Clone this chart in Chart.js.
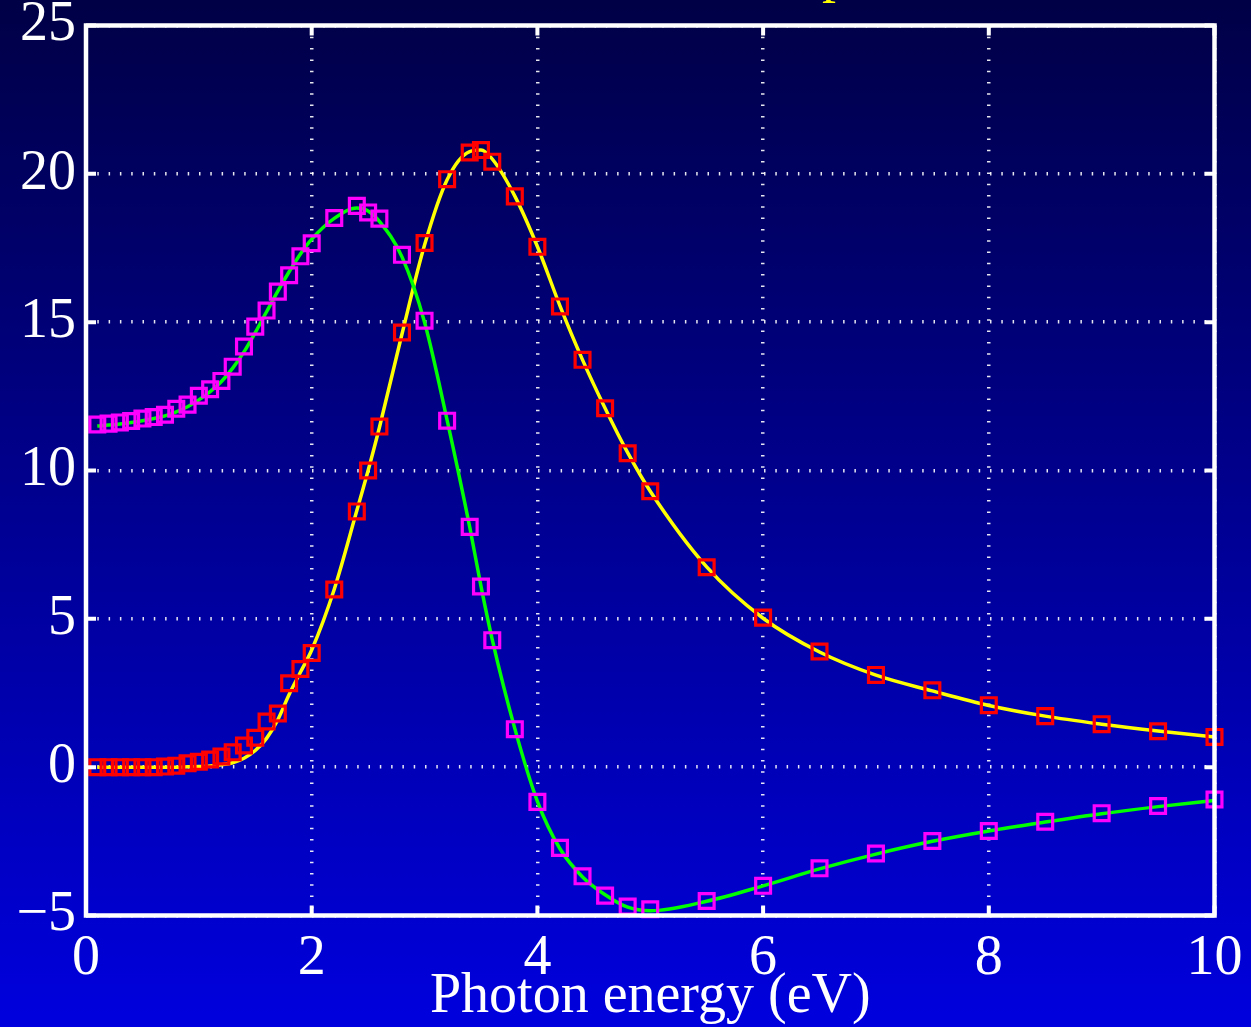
<!DOCTYPE html>
<html>
<head>
<meta charset="utf-8">
<script src="https://cdn.jsdelivr.net/npm/chart.js@4.4.1/dist/chart.umd.min.js"></script>
<style>
  html, body { margin: 0; padding: 0; background: #000046; }
  canvas { display: block; }
</style>
</head>
<body>
<canvas id="eps" width="1251" height="1027"></canvas>
<script>
// photon energy of every sample (eV)
const energy = [0.1,0.2,0.3,0.4,0.5,0.6,0.7,0.8,0.9,1.0,1.1,1.2,1.3,1.4,1.5,1.6,1.7,1.8,1.9,2.0,
  2.2,2.4,2.5,2.6,2.8,3.0,3.2,3.4,3.5,3.6,3.8,4.0,4.2,4.4,4.6,4.8,5.0,5.5,6.0,6.5,7.0,7.5,8.0,8.5,9.0,9.5,10];

// squares (real part, magenta / imaginary part, red)
const eps1Pts = [11.55,11.58,11.62,11.67,11.75,11.8,11.88,12.08,12.22,12.52,12.74,13.02,13.5,14.18,14.85,15.39,16.03,16.58,17.22,17.66,
  18.51,18.92,18.7,18.49,17.27,15.05,11.68,8.1,6.09,4.28,1.28,-1.17,-2.72,-3.68,-4.33,-4.7,-4.79,-4.51,-4.0,-3.41,-2.91,-2.49,-2.15,-1.84,-1.55,-1.31,-1.09];
const eps2Pts = [0,0,0,0,0,0,0.02,0.05,0.13,0.18,0.26,0.36,0.5,0.73,0.99,1.54,1.81,2.83,3.31,3.85,
  5.99,8.62,10.0,11.48,14.65,17.67,19.82,20.72,20.8,20.41,19.24,17.54,15.53,13.73,12.1,10.58,9.3,6.74,5.04,3.9,3.11,2.59,2.09,1.72,1.45,1.21,1.02];

// solid curves (green / yellow)
const eps1Line = [11.5,11.53,11.57,11.62,11.68,11.75,11.84,11.98,12.15,12.38,12.66,13.0,13.45,14.0,14.65,15.35,16.05,16.7,17.3,17.8,
  18.5,18.85,18.75,18.4,17.2,15.0,11.7,8.1,6.1,4.3,1.3,-1.15,-2.75,-3.7,-4.3,-4.72,-4.84,-4.52,-4.0,-3.43,-2.93,-2.5,-2.15,-1.85,-1.57,-1.33,-1.12];
const eps2Line = [0,0,0,0,0,0,0,0,0.01,0.02,0.04,0.08,0.15,0.3,0.56,0.97,1.6,2.45,3.2,3.95,
  6.0,8.65,10.0,11.45,14.6,17.6,19.8,20.75,20.8,20.5,19.25,17.55,15.55,13.73,12.1,10.6,9.3,6.75,5.02,3.88,3.1,2.57,2.08,1.72,1.45,1.22,1.02];

const xTicks = [0,2,4,6,8,10];
const yTicks = [-5,0,5,10,15,20,25];
const xTitle = 'Photon energy (eV)';
const topTitle = 'Lorentz oscillator dielectric response';

const serif = "'Liberation Serif', 'Times New Roman', serif";
const pts = (ys) => energy.map((e, i) => ({x: e, y: ys[i]}));
const fmt = (v) => v < 0 ? '\u2212' + Math.abs(v) : String(v);

const bgPlugin = {
  id: 'bg',
  beforeDraw(chart) {
    const ctx = chart.ctx;
    const g = ctx.createLinearGradient(0, 0, 0, chart.height);
    g.addColorStop(0, '#000046');
    g.addColorStop(1, '#0000de');
    ctx.save();
    ctx.fillStyle = g;
    ctx.fillRect(0, 0, chart.width, chart.height);
    // title sits above the canvas, only the p descender shows
    ctx.font = '56px ' + serif;
    ctx.fillStyle = '#ffff00';
    ctx.textBaseline = 'alphabetic';
    const pre = topTitle.slice(0, topTitle.indexOf('ponse'));
    ctx.fillText(topTitle, 822 - ctx.measureText(pre).width, -9.5);
    ctx.restore();
  }
};

const framePlugin = {
  id: 'frame',
  afterDatasetsDraw(chart) {
    const {ctx, chartArea: a, scales: {x, y}} = chart;
    ctx.save();
    ctx.strokeStyle = '#ffffff';
    ctx.lineWidth = 4;
    ctx.beginPath();
    x.ticks.forEach(t => {
      const px = x.getPixelForValue(t.value);
      ctx.moveTo(px, a.bottom); ctx.lineTo(px, a.bottom - 10);
      ctx.moveTo(px, a.top); ctx.lineTo(px, a.top + 10);
    });
    y.ticks.forEach(t => {
      const py = y.getPixelForValue(t.value);
      ctx.moveTo(a.left, py); ctx.lineTo(a.left + 10, py);
      ctx.moveTo(a.right, py); ctx.lineTo(a.right - 10, py);
    });
    ctx.stroke();
    ctx.lineWidth = 4.5;
    ctx.strokeRect(a.left, a.top, a.right - a.left, a.bottom - a.top);
    ctx.restore();
  }
};

const grid = {
  color: 'rgba(255,255,255,0.9)',
  lineWidth: 3.5,
  drawTicks: false
};
const border = { display: false, dash: [1.5, 9.8] };

new Chart(document.getElementById('eps').getContext('2d'), {
  type: 'line',
  data: {
    datasets: [
      { label: 'eps1 data', data: pts(eps1Pts), showLine: false, order: 0, clip: false,
        pointStyle: 'rect', pointRadius: 10.5, pointBorderWidth: 3.2,
        pointBorderColor: '#ff00ff', pointBackgroundColor: 'rgba(0,0,0,0)' },
      { label: 'eps2 data', data: pts(eps2Pts), showLine: false, order: 0, clip: false,
        pointStyle: 'rect', pointRadius: 10.5, pointBorderWidth: 3.2,
        pointBorderColor: '#ff0000', pointBackgroundColor: 'rgba(0,0,0,0)' },
      { label: 'eps1', data: pts(eps1Line), order: 1, borderColor: '#00ff00', borderWidth: 3.5,
        pointRadius: 0, cubicInterpolationMode: 'monotone', fill: false },
      { label: 'eps2', data: pts(eps2Line), order: 1, borderColor: '#ffff00', borderWidth: 3.5,
        pointRadius: 0, cubicInterpolationMode: 'monotone', fill: false }
    ]
  },
  options: {
    responsive: false,
    animation: false,
    layout: { padding: { top: 25.5, right: 36.5, left: 0, bottom: 0 } },
    plugins: { legend: { display: false }, tooltip: { enabled: false } },
    scales: {
      x: {
        type: 'linear', min: 0, max: 10,
        afterBuildTicks: s => { s.ticks = xTicks.map(v => ({value: v})); },
        afterFit: s => { s.height = 111.5; s.paddingLeft = 0; s.paddingRight = 0; },
        grid: grid,
        border: border,
        ticks: { color: '#ffffff', padding: 10, font: { family: serif, size: 56 }, callback: fmt, maxRotation: 0 },
        title: { display: true, text: xTitle, color: '#ffffff', padding: 0,
                 font: { family: serif, size: 56, lineHeight: 1.05 } }
      },
      y: {
        min: -5, max: 25,
        afterBuildTicks: s => { s.ticks = yTicks.map(v => ({value: v})); },
        afterFit: s => { s.width = 86; s.paddingTop = 0; s.paddingBottom = 0; },
        grid: grid,
        border: border,
        ticks: { color: '#ffffff', padding: 10, font: { family: serif, size: 56 }, callback: fmt }
      }
    }
  },
  plugins: [bgPlugin, framePlugin]
});
</script>
</body>
</html>
